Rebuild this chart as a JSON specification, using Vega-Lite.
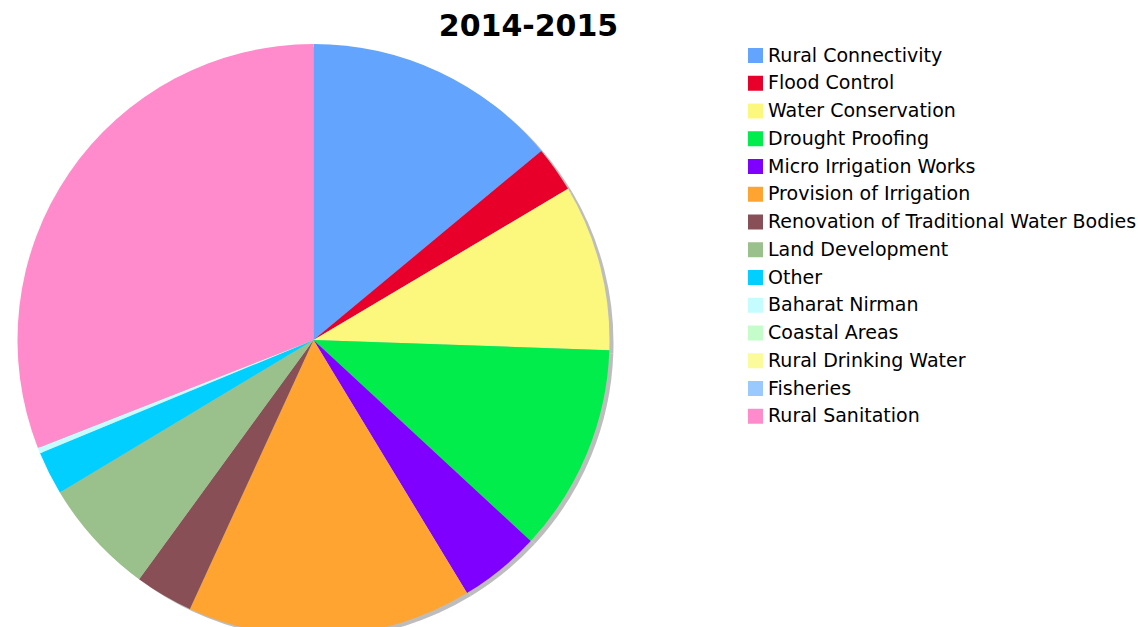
{
  "$schema": "https://vega.github.io/schema/vega-lite/v6.json",
  "width": 627,
  "height": 592,
  "padding": {"top": 11, "left": 0, "right": 0, "bottom": 0},
  "background": "white",
  "title": {
    "text": "2014-2015",
    "font": "DejaVu Sans",
    "fontSize": 30,
    "fontWeight": "bold",
    "color": "black",
    "anchor": "middle",
    "dx": 215,
    "offset": 2.5
  },
  "data": {
    "values": [
      {"scheme": "Rural Connectivity", "share": 13.97, "ord": 1},
      {"scheme": "Flood Control", "share": 2.5, "ord": 2},
      {"scheme": "Water Conservation", "share": 9.08, "ord": 3},
      {"scheme": "Drought Proofing", "share": 11.33, "ord": 4},
      {"scheme": "Micro Irrigation Works", "share": 4.44, "ord": 5},
      {"scheme": "Provision of Irrigation", "share": 15.53, "ord": 6},
      {"scheme": "Renovation of Traditional Water Bodies", "share": 3.17, "ord": 7},
      {"scheme": "Land Development", "share": 6.36, "ord": 8},
      {"scheme": "Other", "share": 2.36, "ord": 9},
      {"scheme": "Baharat Nirman", "share": 0.31, "ord": 10},
      {"scheme": "Coastal Areas", "share": 0, "ord": 11},
      {"scheme": "Rural Drinking Water", "share": 0, "ord": 12},
      {"scheme": "Fisheries", "share": 0, "ord": 13},
      {"scheme": "Rural Sanitation", "share": 30.94, "ord": 14}
    ]
  },
  "encoding": {
    "theta": {"field": "share", "type": "quantitative", "stack": true},
    "order": {"field": "ord", "type": "quantitative"}
  },
  "layer": [
    {
      "mark": {"type": "arc", "radius": 296, "color": "#bdbdbd", "xOffset": 4, "yOffset": 3, "strokeWidth": 0}
    },
    {
      "mark": {"type": "arc", "radius": 296, "strokeWidth": 0},
      "encoding": {
        "color": {
          "field": "scheme",
          "type": "nominal",
          "sort": null,
          "scale": {
            "domain": ["Rural Connectivity", "Flood Control", "Water Conservation", "Drought Proofing", "Micro Irrigation Works", "Provision of Irrigation", "Renovation of Traditional Water Bodies", "Land Development", "Other", "Baharat Nirman", "Coastal Areas", "Rural Drinking Water", "Fisheries", "Rural Sanitation"],
            "range": ["#62a4ff", "#e8002a", "#fcf87e", "#00ed4c", "#8000ff", "#ffa431", "#884f56", "#9ac08c", "#00cfff", "#c4fcff", "#c4fcca", "#fcfb9c", "#99c9ff", "#ff8bcc"]
          },
          "legend": {
            "title": null,
            "orient": "none",
            "legendX": 746,
            "legendY": 2,
            "symbolType": "square",
            "symbolSize": 225,
            "symbolStrokeWidth": 0,
            "symbolOpacity": 1,
            "labelFont": "DejaVu Sans",
            "labelFontSize": 19,
            "labelColor": "black",
            "labelOffset": 3,
            "labelLimit": 500,
            "rowPadding": 7.75,
            "padding": 0
          }
        }
      }
    }
  ],
  "view": {"stroke": null}
}
